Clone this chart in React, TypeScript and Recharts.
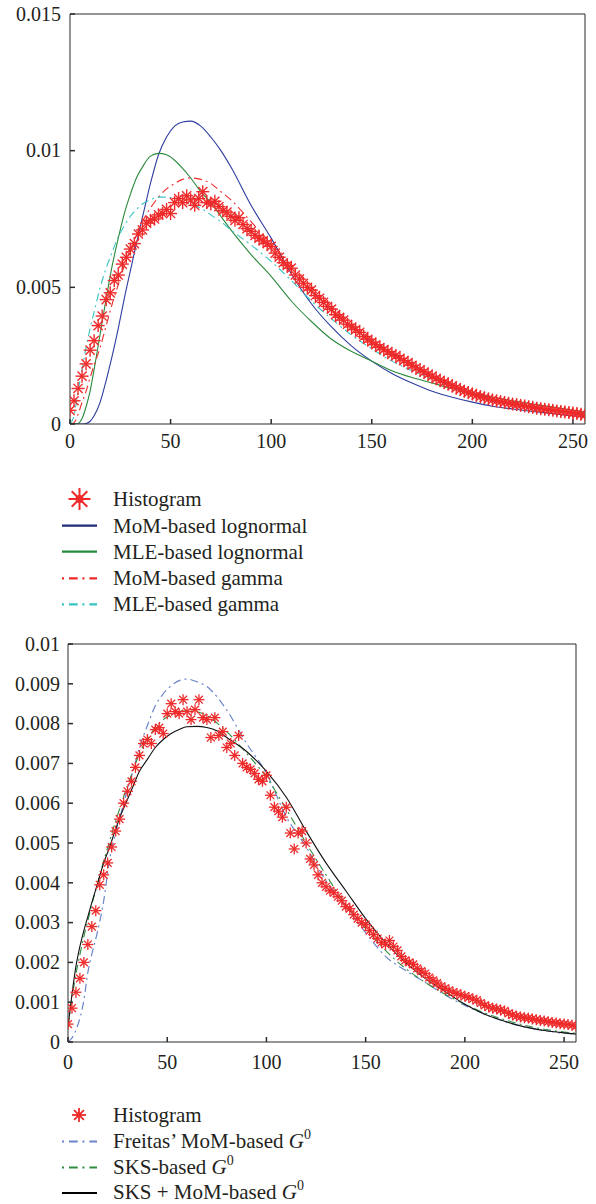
import React from 'react';
import { ComposedChart, Line, Scatter, XAxis, YAxis } from 'recharts';

const FONT = '"Liberation Serif", "Times New Roman", serif';

// grey levels at which the fitted densities are sampled
const curveX = [0, 2, 4, 6, 8, 10, 12, 15, 18, 21, 24, 27, 30, 33, 36, 40, 44, 48, 52, 56, 60, 65, 70, 75, 80, 90, 100, 110, 120, 130, 140, 150, 160, 170, 180, 190, 200, 210, 220, 230, 240, 250, 256];
// histogram bins (every second grey level)
const histX = Array.from({ length: 129 }, (_, i) => i * 2);

const xTicks = [0, 50, 100, 150, 200, 250];
const yTicksTop = [0, 0.005, 0.01, 0.015];
const yTicksBottom = [0, 0.001, 0.002, 0.003, 0.004, 0.005, 0.006, 0.007, 0.008, 0.009, 0.01];

// ---- top panel (values in units of 1e-3) ----
const histTop = [
  0.5, 0.85, 1.3, 1.75, 2.2, 2.7, 3.05, 3.6, 3.95, 4.55,
  4.8, 5.25, 5.45, 5.85, 6.1, 6.4, 6.6, 6.95, 7.1, 7.35,
  7.45, 7.5, 7.65, 7.7, 7.85, 7.7, 8.1, 8.25, 8.1, 8.35,
  8.2, 8.0, 8.25, 8.5, 8.1, 8.05, 8.15, 7.95, 7.8, 7.75,
  7.6, 7.45, 7.55, 7.3, 7.15, 7.05, 6.9, 6.8, 6.7, 6.6,
  6.5, 6.25, 6.1, 5.9, 5.8, 5.7, 5.45, 5.3, 5.15, 5.0,
  4.9, 4.7, 4.6, 4.45, 4.3, 4.2, 4.0, 3.9, 3.8, 3.65,
  3.55, 3.45, 3.35, 3.2, 3.1, 3.0, 2.9, 2.8, 2.72, 2.65,
  2.55, 2.5, 2.4, 2.32, 2.25, 2.15, 2.05, 1.98, 1.9, 1.82,
  1.75, 1.66, 1.6, 1.52, 1.46, 1.4, 1.32, 1.26, 1.2, 1.15,
  1.1, 1.05, 1.0, 0.96, 0.92, 0.88, 0.85, 0.82, 0.79, 0.76,
  0.73, 0.71, 0.68, 0.66, 0.63, 0.61, 0.58, 0.56, 0.54, 0.52,
  0.5, 0.48, 0.46, 0.44, 0.42, 0.4, 0.38, 0.36, 0.32,
];
const momLognormal = [
  0, 0, 0, 0, 0.02, 0.1, 0.3,
  0.8, 1.6, 2.5, 3.5, 4.6, 5.6, 6.6, 7.55,
  8.8, 9.85, 10.5, 10.9, 11.05, 11.08,
  10.9, 10.5, 10.0, 9.4,
  8.0, 6.8, 5.5, 4.4, 3.55, 2.85, 2.3, 1.85, 1.5, 1.2, 0.98, 0.8, 0.65, 0.55, 0.46, 0.38, 0.3,
  0.27,
];
const mleLognormal = [
  0, 0, 0.02, 0.2, 0.63, 1.2, 2.0,
  3.3, 4.6, 5.8, 6.8, 7.7, 8.4, 9.0, 9.4,
  9.8, 9.9, 9.85, 9.65, 9.35, 9.0,
  8.5, 8.1, 7.6, 7.1,
  6.2, 5.4, 4.5, 3.75, 3.1, 2.65, 2.3, 1.95, 1.7, 1.5, 1.3, 1.12, 0.98, 0.85, 0.73, 0.62, 0.5,
  0.44,
];
const momGamma = [
  0, 0.05, 0.35, 0.8, 1.2, 1.7, 2.15,
  2.8, 3.6, 4.4, 5.1, 5.8, 6.4, 6.9, 7.4,
  7.9, 8.3, 8.6, 8.8, 8.95, 9.0,
  8.95, 8.8, 8.5, 8.2,
  7.4, 6.6, 5.8, 5.0, 4.3, 3.65, 3.1, 2.6, 2.2, 1.8, 1.5, 1.2, 1.0, 0.8, 0.66, 0.53, 0.42,
  0.37,
];
const mleGamma = [
  0, 0.3, 1.2, 2.0, 2.8, 3.5, 4.1,
  5.0, 5.7, 6.3, 6.85, 7.25, 7.6, 7.85, 8.05,
  8.2, 8.3, 8.3, 8.25, 8.15, 8.05,
  7.9, 7.65, 7.4, 7.1,
  6.55, 5.95, 5.25, 4.5, 3.85, 3.25, 2.75, 2.3, 1.95, 1.65, 1.38, 1.12, 0.92, 0.76, 0.63, 0.52, 0.43,
  0.38,
];

// ---- bottom panel (values in units of 1e-3) ----
const histBottom = [
  0.45, 0.85, 1.25, 1.6, 2.0, 2.45, 2.9, 3.3, 3.95, 4.2,
  4.5, 4.9, 5.3, 5.6, 6.0, 6.3, 6.55, 6.9, 7.2, 7.5,
  7.6, 7.5, 7.85, 7.9, 7.75, 8.25, 8.5, 8.3, 8.25, 8.6,
  8.3, 8.1, 8.35, 8.6, 8.15, 8.1, 7.65, 8.15, 7.7, 7.8,
  7.4, 7.5, 7.2, 7.7, 7.0, 6.9, 6.85, 6.75, 6.6, 6.55,
  6.7, 6.2, 5.9, 5.8, 5.65, 5.9, 5.25, 4.85, 5.25, 5.3,
  5.0, 4.6, 4.45, 4.2, 4.0, 3.9, 3.8, 3.75, 3.65, 3.55,
  3.4, 3.35, 3.2, 3.1, 3.0, 2.95, 2.8, 2.7, 2.6, 2.5,
  2.45, 2.55, 2.4, 2.3, 2.15, 2.05, 2.0, 1.95, 1.85, 1.78,
  1.72, 1.62, 1.55, 1.48, 1.4, 1.35, 1.3, 1.25, 1.22, 1.18,
  1.15, 1.12, 1.08, 1.05, 0.98, 0.92, 0.88, 0.85, 0.83, 0.8,
  0.78, 0.72, 0.68, 0.65, 0.63, 0.61, 0.6, 0.58, 0.56, 0.54,
  0.53, 0.51, 0.49, 0.48, 0.46, 0.45, 0.44, 0.42, 0.4,
];
const freitasG0 = [
  0, 0.1, 0.3, 0.6, 1.05, 1.75, 2.2,
  2.8, 3.55, 4.6, 5.25, 5.8, 6.35, 6.85, 7.4,
  7.95, 8.45, 8.75, 8.95, 9.08, 9.12,
  9.05, 8.93, 8.68, 8.34,
  7.5, 6.75, 5.66, 4.9, 4.05, 3.4, 2.75, 2.15, 1.8, 1.5, 1.18, 0.92, 0.7, 0.52, 0.38, 0.29, 0.22,
  0.2,
];
const sksG0 = [
  0.4, 1.1, 1.7, 2.2, 2.65, 3.05, 3.45,
  4.0, 4.55, 5.05, 5.55, 6.0, 6.45, 6.85, 7.25,
  7.6, 7.9, 8.1, 8.22, 8.3, 8.32,
  8.3, 8.2, 8.02, 7.8,
  7.25, 6.65, 5.85, 5.0, 4.2, 3.45, 2.85, 2.3, 1.85, 1.5, 1.2, 0.95, 0.73, 0.56, 0.42, 0.32, 0.25,
  0.22,
];
const sksMomG0 = [
  0.38, 1.2, 1.9, 2.4, 2.8, 3.15, 3.5,
  4.0, 4.5, 4.9, 5.35, 5.75, 6.1, 6.45, 6.8,
  7.1, 7.4, 7.6, 7.75, 7.85, 7.92,
  7.93, 7.9, 7.82, 7.65,
  7.3, 6.8, 6.15, 5.3, 4.5, 3.8, 3.1, 2.5, 2.0, 1.6, 1.27, 0.95, 0.7, 0.52, 0.38, 0.29, 0.23,
  0.2,
];

const RED = '#ee2a2a';
const DASHDOT = '8 4 2 4';

type SeriesDef = { key: string; values: number[]; color: string; dash?: string; width?: number };

const topSeries: SeriesDef[] = [
  { key: 'momLognormal', values: momLognormal, color: '#2e3da0', width: 1.1 },
  { key: 'mleLognormal', values: mleLognormal, color: '#2a8a3c', width: 1.1 },
  { key: 'momGamma', values: momGamma, color: RED, dash: DASHDOT, width: 1.1 },
  { key: 'mleGamma', values: mleGamma, color: '#35c4c0', dash: DASHDOT, width: 1.1 },
];
const bottomSeries: SeriesDef[] = [
  { key: 'freitas', values: freitasG0, color: '#6a84cc', dash: DASHDOT, width: 1.2 },
  { key: 'sks', values: sksG0, color: '#2e8b3e', dash: DASHDOT, width: 1.1 },
  { key: 'sksMom', values: sksMomG0, color: '#111111', width: 1.1 },
];

function Star({ cx, cy, r, color, sw, dot }: { cx: number; cy: number; r: number; color: string; sw: number; dot?: number }) {
  const d = r * 0.7071;
  return (
    <g stroke={color} strokeWidth={sw} fill={color}>
      <line x1={cx - r} y1={cy} x2={cx + r} y2={cy} />
      <line x1={cx} y1={cy - r} x2={cx} y2={cy + r} />
      <line x1={cx - d} y1={cy - d} x2={cx + d} y2={cy + d} />
      <line x1={cx - d} y1={cy + d} x2={cx + d} y2={cy - d} />
      {dot ? <circle cx={cx} cy={cy} r={dot} stroke="none" /> : null}
    </g>
  );
}

function XTick(props: any) {
  const { x, y, payload } = props;
  return (
    <text x={x} y={y} dy="0.71em" textAnchor="middle" fontFamily={FONT} fontSize={20} fill="#231f20">
      {String(payload.value)}
    </text>
  );
}
function YTick(props: any) {
  const { x, y, payload } = props;
  return (
    <text x={x} y={y} dy="0.34em" textAnchor="end" fontFamily={FONT} fontSize={20} fill="#231f20">
      {String(payload.value)}
    </text>
  );
}

type PanelProps = {
  top: number;
  height: number;
  marginRight: number;
  yWidth: number;
  xHeight: number;
  yMax: number;
  yTicks: number[];
  series: SeriesDef[];
  hist: number[];
  yTickMargin: number;
  xTickMargin: number;
  starR: number;
  starW: number;
};

const AXIS_COLOR = '#2a2a2a';

function Panel(p: PanelProps) {
  const data = curveX.map((x, i) => {
    const row: Record<string, number> = { x };
    p.series.forEach((s) => {
      row[s.key] = s.values[i] / 1000;
    });
    return row;
  });
  const histData = histX.map((x, i) => ({ x, y: p.hist[i] / 1000 }));
  return (
    <div style={{ position: 'absolute', left: 0, top: p.top, fontFamily: FONT }}>
      <ComposedChart
        width={596}
        height={p.height}
        data={data}
        margin={{ top: 13, right: p.marginRight, left: 0, bottom: 0 }}
      >
        <XAxis
          xAxisId="b"
          type="number"
          dataKey="x"
          domain={[0, 256]}
          allowDataOverflow
          ticks={xTicks}
          interval={0}
          height={p.xHeight}
          tickSize={-5}
          tickMargin={p.xTickMargin}
          tick={<XTick />}
          axisLine={{ stroke: AXIS_COLOR, strokeWidth: 1 }}
          tickLine={{ stroke: AXIS_COLOR, strokeWidth: 1.5 }}
        />
        <XAxis
          xAxisId="t"
          orientation="top"
          type="number"
          dataKey="x"
          domain={[0, 256]}
          allowDataOverflow
          ticks={xTicks}
          interval={0}
          height={1}
          tickSize={-5}
          tick={false}
          axisLine={{ stroke: AXIS_COLOR, strokeWidth: 1 }}
          tickLine={{ stroke: AXIS_COLOR, strokeWidth: 1.5 }}
        />
        <YAxis
          yAxisId="l"
          type="number"
          domain={[0, p.yMax]}
          allowDataOverflow
          ticks={p.yTicks}
          interval={0}
          width={p.yWidth}
          tickSize={-5}
          tickMargin={p.yTickMargin}
          tick={<YTick />}
          axisLine={{ stroke: AXIS_COLOR, strokeWidth: 1 }}
          tickLine={{ stroke: AXIS_COLOR, strokeWidth: 1.5 }}
        />
        <YAxis
          yAxisId="r"
          orientation="right"
          type="number"
          domain={[0, p.yMax]}
          allowDataOverflow
          ticks={p.yTicks}
          interval={0}
          width={1}
          tickSize={-5}
          tick={false}
          axisLine={{ stroke: AXIS_COLOR, strokeWidth: 1 }}
          tickLine={{ stroke: AXIS_COLOR, strokeWidth: 1.5 }}
        />
        <Scatter
          data={histData}
          dataKey="y"
          xAxisId="b"
          yAxisId="l"
          isAnimationActive={false}
          shape={(sp: any) => <Star cx={sp.cx} cy={sp.cy} r={p.starR} color={RED} sw={p.starW} />}
        />
        {p.series.map((s) => (
          <Line
            key={s.key}
            xAxisId="b"
            yAxisId="l"
            type="monotone"
            dataKey={s.key}
            stroke={s.color}
            strokeWidth={s.width ?? 1}
            strokeDasharray={s.dash}
            dot={false}
            activeDot={false}
            isAnimationActive={false}
          />
        ))}
      </ComposedChart>
    </div>
  );
}

const LEG_FONT = 21;

function LegendLine({ y, color, dash }: { y: number; color: string; dash?: string }) {
  return <line x1={62} x2={97} y1={y} y2={y} stroke={color} strokeWidth={2.2} strokeDasharray={dash} />;
}

function G0() {
  return (
    <>
      <tspan fontStyle="italic">G</tspan>
      <tspan dy={-9} fontSize={14}>0</tspan>
    </>
  );
}

function TopLegend() {
  const ys = [29, 55.7, 81.7, 108.3, 134.3];
  const labels = ['Histogram', 'MoM-based lognormal', 'MLE-based lognormal', 'MoM-based gamma', 'MLE-based gamma'];
  return (
    <svg width={400} height={150} style={{ position: 'absolute', left: 0, top: 470 }}>
      <Star cx={79.5} cy={ys[0]} r={11} color={RED} sw={2} dot={4} />
      <LegendLine y={ys[1]} color="#1f2a78" />
      <LegendLine y={ys[2]} color="#238a3e" />
      <LegendLine y={ys[3]} color={RED} dash="2 5 8.7 4.7" />
      <LegendLine y={ys[4]} color="#35c4c0" dash="2 5 8.7 4.7" />
      {labels.map((t, i) => (
        <text key={t} x={113} y={ys[i] + 7} fontFamily={FONT} fontSize={LEG_FONT} fill="#231f20">
          {t}
        </text>
      ))}
    </svg>
  );
}

function BottomLegend() {
  const ys = [25, 51.5, 77.5, 103];
  return (
    <svg width={400} height={114} style={{ position: 'absolute', left: 0, top: 1090 }}>
      <Star cx={79} cy={ys[0]} r={7} color={RED} sw={1.8} dot={2.5} />
      <LegendLine y={ys[1]} color="#6a84cc" dash="2 5 8.7 4.7" />
      <LegendLine y={ys[2]} color="#2e8b3e" dash="2 5 8.7 4.7" />
      <LegendLine y={ys[3]} color="#000000" />
      <text x={113} y={ys[0] + 6.5} fontFamily={FONT} fontSize={LEG_FONT} fill="#231f20">Histogram</text>
      <text x={113} y={ys[1] + 6.5} fontFamily={FONT} fontSize={LEG_FONT} fill="#231f20">
        Freitas’ MoM-based <G0 />
      </text>
      <text x={113} y={ys[2] + 6.5} fontFamily={FONT} fontSize={LEG_FONT} fill="#231f20">
        SKS-based <G0 />
      </text>
      <text x={113} y={ys[3] + 6} fontFamily={FONT} fontSize={LEG_FONT} fill="#231f20">
        SKS + MoM-based <G0 />
      </text>
    </svg>
  );
}

export default function App() {
  return (
    <div style={{ position: 'absolute', left: 0, top: 0, width: 596, height: 1204, background: '#fff', overflow: 'hidden' }}>
      <Panel
        top={0}
        height={460}
        marginRight={10}
        yWidth={70}
        xHeight={36}
        yMax={0.015}
        yTicks={yTicksTop}
        series={topSeries}
        hist={histTop}
        yTickMargin={14}
        xTickMargin={15}
        starR={6.5}
        starW={1.4}
      />
      <TopLegend />
      <Panel
        top={630}
        height={460}
        marginRight={19}
        yWidth={68}
        xHeight={48}
        yMax={0.01}
        yTicks={yTicksBottom}
        series={bottomSeries}
        hist={histBottom}
        yTickMargin={13}
        xTickMargin={18}
        starR={5.5}
        starW={1.3}
      />
      <BottomLegend />
    </div>
  );
}
